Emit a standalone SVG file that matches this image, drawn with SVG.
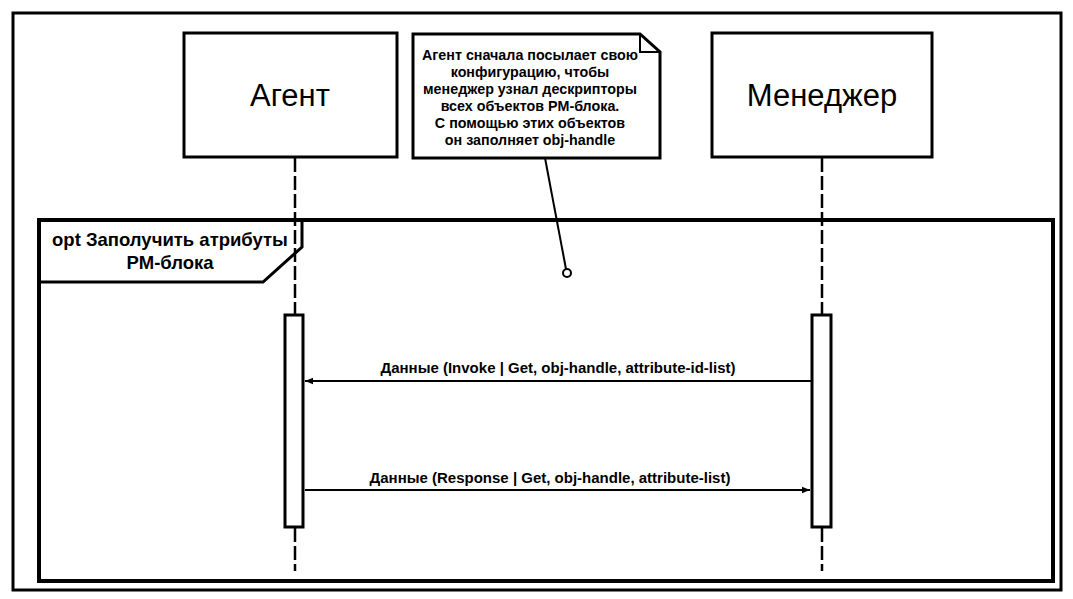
<svg xmlns="http://www.w3.org/2000/svg" width="1073" height="599" viewBox="0 0 1073 599">
<defs>
<style>
.b{fill:#fff;stroke:#000;stroke-width:3}
.ln{fill:none;stroke:#000;stroke-width:2}
.dash{fill:none;stroke:#000;stroke-width:2.5;stroke-dasharray:14,4}
text{font-family:"Liberation Sans",Arial,sans-serif;fill:#000}
.name{font-size:31px;text-anchor:middle}
.note{font-size:14.3px;font-weight:bold;text-anchor:middle}
.msg{font-size:15px;font-weight:bold;text-anchor:middle}
.fl{font-size:18.5px;font-weight:bold;text-anchor:middle}
</style>
<marker id="ah" viewBox="0 0 10 10" refX="10" refY="5" markerWidth="11" markerHeight="8" markerUnits="userSpaceOnUse" orient="auto">
<path d="M0,1 L10,5 L0,9 Z" fill="#000"/>
</marker>
</defs>
<rect width="1073" height="599" fill="#fff"/>
<rect x="13" y="13" width="1048" height="577" fill="none" stroke="#000" stroke-width="3"/>
<g id="frame">
<rect x="39" y="220" width="1014" height="361" fill="none" stroke="#000" stroke-width="4"/>
<path d="M39,220 L302,220 L302,247 L263,282 L39,282" fill="none" stroke="#000" stroke-width="3"/>
<text class="fl" x="170" y="246">opt Заполучить атрибуты</text>
<text class="fl" x="170" y="269">PM-блока</text>
</g>
<g id="agent">
<rect class="b" x="184" y="33" width="213" height="124"/>
<text class="name" x="290" y="106">Агент</text>
</g>
<g id="manager">
<rect class="b" x="712" y="33" width="220" height="124"/>
<text class="name" x="822" y="106">Менеджер</text>
</g>
<g id="note">
<path d="M413,34 L640,34 L660,52 L660,158 L413,158 Z" fill="#fff" stroke="#000" stroke-width="3"/>
<path d="M640,34 L640,52 L660,52" fill="none" stroke="#000" stroke-width="2"/>
<text class="note" x="530" y="60">Агент сначала посылает свою</text>
<text class="note" x="530" y="77">конфигурацию, чтобы</text>
<text class="note" x="530" y="94">менеджер узнал дескрипторы</text>
<text class="note" x="530" y="111">всех объектов PM-блока.</text>
<text class="note" x="530" y="128">С помощью этих объектов</text>
<text class="note" x="530" y="145">он заполняет obj-handle</text>
</g>
<g id="connectors">
<line class="dash" x1="295" y1="158" x2="295" y2="314"/>
<line class="dash" x1="295" y1="528" x2="295" y2="571"/>
<line class="dash" x1="822" y1="158" x2="822" y2="314"/>
<line class="dash" x1="822" y1="528" x2="822" y2="571"/>
<line class="ln" x1="545" y1="158" x2="566" y2="269"/>
<circle cx="567" cy="273" r="4" fill="#fff" stroke="#000" stroke-width="2"/>
<line class="ln" x1="811" y1="381" x2="305" y2="381" marker-end="url(#ah)"/>
<text class="msg" x="558" y="373">Данные (Invoke | Get, obj-handle, attribute-id-list)</text>
<line class="ln" x1="305" y1="490" x2="810" y2="490" marker-end="url(#ah)"/>
<text class="msg" x="550" y="483">Данные (Response | Get, obj-handle, attribute-list)</text>
</g>
<g id="act-agent">
<rect class="b" x="285" y="315" width="18" height="212"/>
</g>
<g id="act-manager">
<rect class="b" x="812" y="315" width="19" height="212"/>
</g>
</svg>
